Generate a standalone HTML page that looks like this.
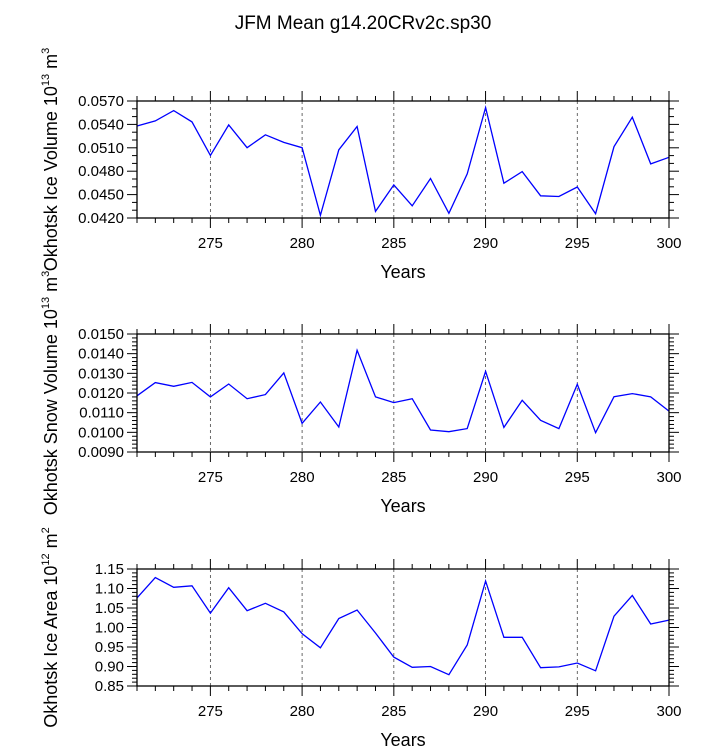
<!DOCTYPE html>
<html><head><meta charset="utf-8"><style>
body{margin:0;background:#fff;}
svg{display:block;font-family:"Liberation Sans",sans-serif;}
</style></head><body>
<svg id="chart" width="723" height="746" xmlns="http://www.w3.org/2000/svg">
<text x="363" y="29" font-size="19" text-anchor="middle">JFM Mean g14.20CRv2c.sp30</text>
</svg>
<script>
const years = [271,272,273,274,275,276,277,278,279,280,281,282,283,284,285,286,287,288,289,290,291,292,293,294,295,296,297,298,299,300];
const iceVolume = [0.0538,0.05445,0.05577,0.05432,0.05003,0.05394,0.05101,0.05267,0.05169,0.05101,0.04234,0.05075,0.05373,0.04285,0.04625,0.04357,0.04706,0.0426,0.04765,0.05615,0.04646,0.04795,0.04485,0.04476,0.04597,0.04255,0.05114,0.05492,0.04893,0.04978];
const snowVolume = [0.01186,0.01253,0.01234,0.01254,0.0118,0.01246,0.01171,0.01192,0.01302,0.01046,0.01154,0.01027,0.01417,0.0118,0.01151,0.01171,0.01012,0.01003,0.01019,0.0131,0.01025,0.01163,0.01061,0.01019,0.01244,0.00998,0.01181,0.01197,0.0118,0.01108];
const iceArea = [1.076,1.128,1.103,1.107,1.037,1.102,1.043,1.062,1.040,0.984,0.948,1.023,1.045,0.986,0.924,0.898,0.900,0.879,0.955,1.119,0.975,0.975,0.897,0.899,0.909,0.889,1.029,1.082,1.009,1.019];
const xTicks = [275,280,285,290,295,300];
const iceVolTicks = ["0.0420","0.0450","0.0480","0.0510","0.0540","0.0570"];
const snowVolTicks = ["0.0090","0.0100","0.0110","0.0120","0.0130","0.0140","0.0150"];
const iceAreaTicks = ["0.85","0.90","0.95","1.00","1.05","1.10","1.15"];

const NS="http://www.w3.org/2000/svg";
const svg=document.getElementById('chart');
function mk(tag,attrs,parent){const e=document.createElementNS(NS,tag);for(const k in attrs)e.setAttribute(k,attrs[k]);(parent||svg).appendChild(e);return e;}

const X0=137,X1=669;
function xs(v){return X0+(v-271)/(300-271)*(X1-X0);}

function panel(key,top,bottom,data,ticks,minorStep,labelMain,expo,unitExp){
  const g=mk('g',{});
  
  
  const lo=parseFloat(ticks[0]),hi=parseFloat(ticks[ticks.length-1]);
  const ys=v=>bottom-(v-lo)/(hi-lo)*(bottom-top);
  // dashed gridlines
  xTicks.forEach(t=>{
    if(t===300)return;
    const l=mk('line',{x1:xs(t),x2:xs(t),y1:top,y2:bottom,stroke:'#444','stroke-width':0.8,'stroke-dasharray':'3,3'},g);
    
    
  });
  // x ticks
  for(let yr=271;yr<=300;yr++){
    const major=yr%5===0;const len=major?10:5;
    mk('line',{x1:xs(yr),x2:xs(yr),y1:bottom,y2:bottom+len,stroke:'#000','stroke-width':1},g);
    mk('line',{x1:xs(yr),x2:xs(yr),y1:top,y2:top-len,stroke:'#000','stroke-width':1},g);
  }
  xTicks.forEach(t=>{
    const tx=mk('text',{x:xs(t),y:bottom+30,'font-size':15,'text-anchor':'middle'},g);
    tx.textContent=t;
    
    
  });
  // y ticks
  const n=Math.round((hi-lo)/minorStep);
  const per=Math.round((parseFloat(ticks[1])-lo)/minorStep);
  for(let i=0;i<=n;i++){
    const v=lo+i*minorStep;const major=i%per===0;const len=major?10:5;
    mk('line',{x1:X0,x2:X0-len,y1:ys(v),y2:ys(v),stroke:'#000','stroke-width':1},g);
    mk('line',{x1:X1,x2:X1+len,y1:ys(v),y2:ys(v),stroke:'#000','stroke-width':1},g);
  }
  ticks.forEach(t=>{
    const tx=mk('text',{x:X0-13,y:ys(parseFloat(t))+5,'font-size':15,'text-anchor':'end'},g);
    tx.textContent=t;
    
    
  });
  // line
  const pts=years.map((y,i)=>xs(y).toFixed(1)+','+ys(data[i]).toFixed(1)).join(' ');
  const pl=mk('polyline',{points:pts,fill:'none',stroke:'#0000ff','stroke-width':1.3},g);
  
  
  // frame
  const r=mk('rect',{x:X0,y:top,width:X1-X0,height:bottom-top,fill:'none',stroke:'#000','stroke-width':1.3},g);
  
  
  // x title
  const xt=mk('text',{x:403,y:bottom+60,'font-size':18,'text-anchor':'middle'},g);
  xt.textContent='Years';
  
  
  // y title
  const cy=(top+bottom)/2;
  const yt=mk('text',{x:0,y:0,'font-size':18,'text-anchor':'middle',transform:`translate(57,${cy}) rotate(-90)`},g);
  yt.innerHTML=labelMain+' 10<tspan dy="-8" font-size="11">'+expo+'</tspan><tspan dy="8"> m</tspan><tspan dy="-8" font-size="11">'+unitExp+'</tspan>';
  
  
}
panel('ice-volume',101,218,iceVolume,iceVolTicks,0.001,'Okhotsk Ice Volume','13','3');
panel('snow-volume',334,452,snowVolume,snowVolTicks,0.0002,'Okhotsk Snow Volume','13','3');
panel('ice-area',569,686,iceArea,iceAreaTicks,0.01,'Okhotsk Ice Area','12','2');
</script>
</body></html>
